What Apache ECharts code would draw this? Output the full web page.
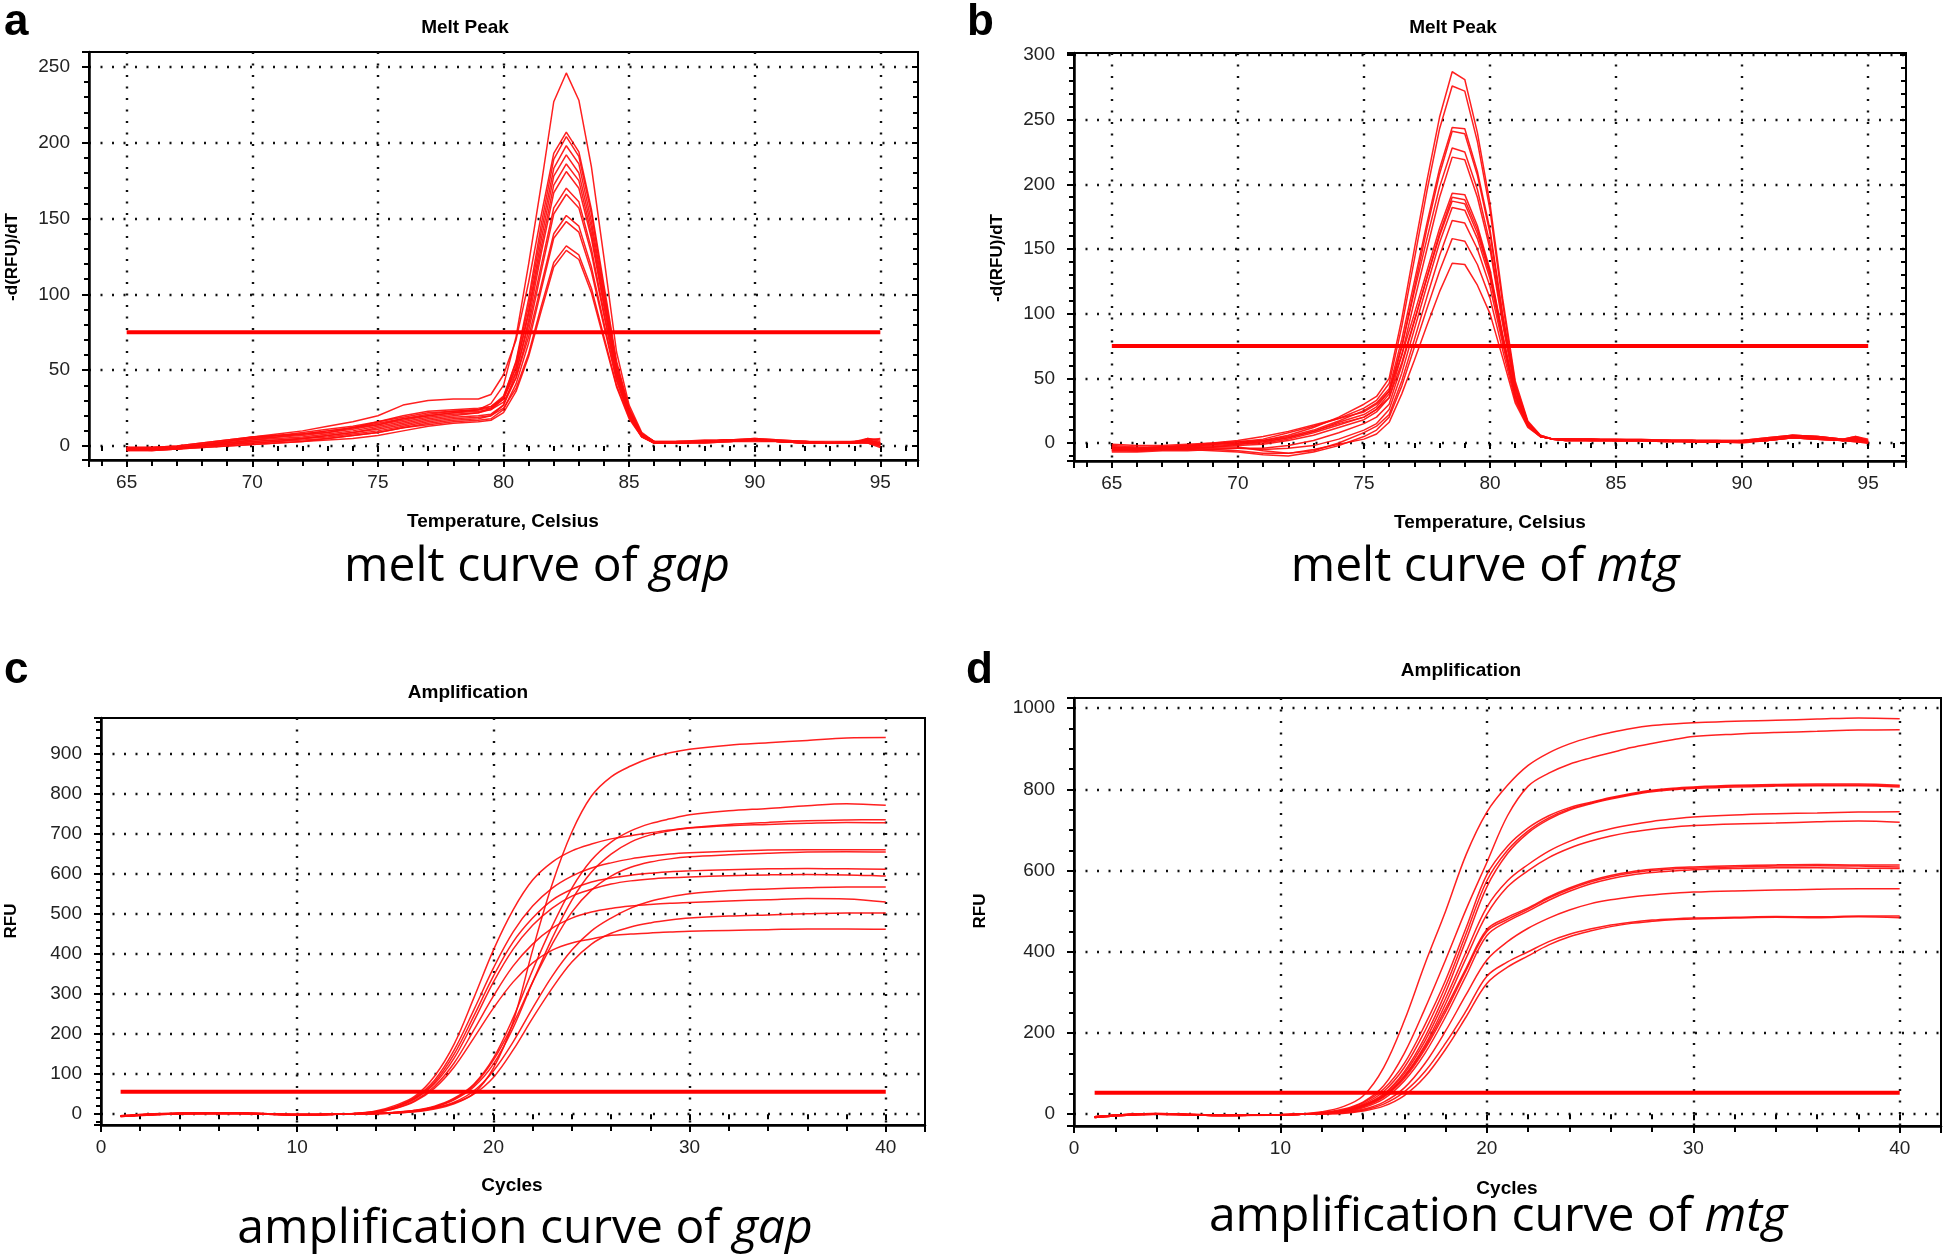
<!DOCTYPE html>
<html><head><meta charset="utf-8">
<script src="https://cdn.jsdelivr.net/npm/echarts@6/dist/echarts.min.js"></script>
<style>html,body{margin:0;padding:0;background:#fff}#c{width:1946px;height:1260px}</style>
</head><body><div id="c"></div><script>
// ---------- Panel a: melt peak of gap ----------
const aTemps = [65,66,67,68,69,70,71,72,73,74,75,76,77,78,79,79.5,80,80.5,81,81.5,82,82.5,83,83.5,84,84.5,85,85.5,86,87,88,89,90,91,92,93,94,94.5,95];
const aCurves = [
 [-2,-2,-1,1,3,5,6,8,10,12,15,18,20,22,24, 28,40,72,120,172,227,246,228,184,124,62,27,9,3, 3,3,4,4,3,3,2,3,4,2],
 [-1,-1,0,2,4,6,8,10,13,16,20,27,30,31,31, 34,47,70,108,152,193,207,194,156,106,56,25,8,3, 2,3,4,5,4,3,2,2,5,3],
 [-3,-3,-2,0,1,2,3,5,7,9,12,15,18,20,22, 25,32,56,97,146,189,204,191,153,103,54,24,8,3, 2,3,3,4,3,2,2,3,3,1],
 [-1,-1,-1,1,3,6,7,8,9,11,14,18,21,23,24, 26,33,55,93,141,183,198,186,148,100,53,24,8,3, 3,4,4,4,3,3,2,2,4,5],
 [-2,-2,-1,0,2,4,5,6,8,10,13,16,19,21,22, 24,31,52,89,136,178,192,180,144,97,51,23,8,2, 2,3,4,4,3,2,2,2,3,0],
 [-1,-2,-2,0,2,4,6,7,9,12,16,20,23,24,25, 26,32,52,87,131,172,186,175,140,94,50,22,7,2, 3,3,4,5,4,3,2,3,2,1],
 [-3,-3,-2,-1,0,1,2,3,5,7,9,12,15,17,18, 20,27,48,83,127,167,181,170,137,92,49,22,7,2, 2,3,3,4,3,2,2,2,4,2],
 [-2,-2,-1,1,3,5,7,9,11,13,16,19,22,23,24, 25,31,49,80,119,157,170,161,130,88,47,21,7,2, 3,3,4,4,3,3,3,3,5,4],
 [-2,-1,-1,0,1,3,4,5,7,9,11,14,17,19,20, 21,27,45,76,115,153,166,157,127,86,46,21,7,2, 2,2,3,4,3,2,2,2,3,1],
 [-1,-1,0,2,4,6,7,8,10,12,14,17,20,22,23, 24,29,45,72,106,140,152,145,118,81,44,20,7,2, 3,3,4,4,3,2,2,3,4,2],
 [-3,-2,-2,0,1,2,3,4,5,7,9,12,14,16,17, 18,24,41,68,103,137,148,141,115,79,43,20,6,2, 2,3,3,4,3,2,2,2,2,-1],
 [-2,-2,-1,0,2,3,4,5,6,8,10,13,16,18,19, 20,25,38,61,92,121,132,126,104,72,40,19,6,2, 2,3,4,4,3,3,2,2,3,2],
 [-2,-3,-2,-1,0,1,2,3,4,5,7,10,13,15,16, 17,22,36,59,89,118,129,123,101,70,39,18,6,2, 2,2,3,3,3,2,2,2,2,0]
];
const aThreshold = 75;

// ---------- Panel b: melt peak of mtg ----------
const bTemps = [65,66,67,68,69,70,71,72,73,74,75,75.5,76,76.5,77,77.5,78,78.5,79,79.5,80,80.5,81,81.5,82,82.5,83,84,85,86,87,88,89,90,91,92,93,94,94.5,95];
const bCurves = [
 [-3,-4,-3,-2,-1,0,2,6,12,20, 30,36,50,96,150,203,252,287,281,240,185,112,48,17,6,3, 3,3,2,2,2,2,1,1,3,5,4,2,4,1],
 [-5,-5,-4,-3,-1,1,3,8,13,19, 27,33,46,90,142,195,243,276,272,233,180,108,46,16,6,3, 3,3,3,2,2,2,2,2,4,6,5,3,5,2],
 [-2,-3,-3,-2,0,1,2,5,10,17, 25,31,42,80,125,170,212,244,243,210,165,100,44,16,5,3, 2,2,2,2,2,1,1,1,2,4,3,2,3,0],
 [-6,-6,-5,-4,-3,-1,0,3,8,14, 20,26,38,74,120,166,208,241,239,207,162,98,43,15,5,3, 3,3,2,2,2,2,2,1,3,5,4,3,2,1],
 [-3,-4,-3,-2,-1,0,1,4,9,16, 22,28,40,75,117,158,198,228,225,196,154,95,42,15,5,3, 3,2,2,2,2,2,1,2,3,6,5,3,4,2],
 [-5,-6,-5,-4,-3,-2,-1,2,6,12, 18,24,35,68,110,150,190,221,219,190,150,92,41,15,5,3, 2,2,2,2,1,1,1,1,2,4,3,2,1,0],
 [-1,-2,-2,-1,0,2,5,9,14,19, 24,30,40,68,100,133,166,193,192,168,134,84,38,14,5,3, 3,3,3,3,2,2,2,2,4,6,5,3,5,3],
 [-7,-7,-6,-6,-5,-4,-4,-2,2,8, 15,20,30,60,94,128,162,190,188,165,132,83,38,14,5,3, 2,2,2,2,2,1,1,1,3,5,4,2,3,1],
 [-4,-5,-4,-3,-2,-1,1,4,9,15, 20,26,35,62,95,128,160,187,185,162,130,82,37,14,5,3, 3,3,2,2,2,2,1,1,2,5,4,2,3,2],
 [-6,-6,-5,-5,-4,-4,-5,-4,-2,3, 10,15,26,54,88,122,155,182,180,158,127,80,36,14,5,3, 2,2,2,2,1,1,1,0,2,4,3,2,1,0],
 [-3,-4,-3,-3,-3,-3,-6,-8,-6,0, 8,13,22,48,80,113,145,172,170,150,121,77,35,13,5,3, 3,2,2,2,2,1,1,1,3,5,4,2,4,1],
 [-5,-6,-5,-5,-6,-7,-9,-10,-7,-2, 5,10,20,44,74,104,133,158,156,138,112,72,33,13,5,3, 2,2,2,2,2,1,1,1,2,4,3,2,2,0],
 [-4,-5,-4,-4,-5,-6,-8,-8,-5,-1, 3,7,16,38,64,91,117,139,138,122,100,66,31,12,5,3, 3,3,2,2,2,2,1,1,3,5,4,2,3,1]
];
const bThreshold = 75;

// ---------- Panel c: amplification of gap ----------
const cCycles = [1,4,7,10,12,13,14,15,16,17,18,19,20,21,22,23,24,25,26,27,28,29,30,32,34,36,38,40];
const cCurves = [
 [-5,2,3,-1,0,1, 2,4,8,16,28,52,115,230,410,575,705,795,843,870,890,903,912, 922,928,934,940,941],
 [-4,2,2,-2,0,1, 2,5,10,20,40,75,140,240,360,470,565,635,680,708,726,738,748, 758,764,771,776,772],
 [-6,1,3,-1,0,2, 8,22,45,95,175,290,410,510,585,630,658,675,688,696,703,710,716, 724,729,733,735,736],
 [-5,2,2,-1,0,1, 2,4,9,18,36,68,125,215,330,440,535,605,650,680,698,708,715, 721,724,727,729,728],
 [-4,3,3,-2,0,2, 7,19,42,85,160,260,365,455,520,565,595,615,628,638,645,650,653, 657,660,661,661,661],
 [-5,2,2,-1,0,1, 2,4,9,18,38,72,135,225,330,425,505,560,595,617,630,638,643, 648,652,655,656,655],
 [-6,1,2,-2,0,2, 6,18,40,80,150,245,345,430,490,535,562,580,590,597,602,606,608, 611,613,614,613,612],
 [-5,2,3,-1,0,2, 6,17,38,76,140,232,330,412,472,515,545,562,575,583,588,591,593, 596,598,599,598,595],
 [-4,2,2,-1,0,1, 1,3,7,15,30,58,108,180,265,345,410,458,490,515,532,543,551, 559,563,566,568,568],
 [-5,2,2,-2,0,1, 5,15,34,70,128,210,295,370,425,465,490,505,514,520,524,527,529, 533,536,539,538,530],
 [-6,1,3,-1,0,1, 1,3,6,13,26,50,92,160,240,315,380,425,452,468,478,485,490, 495,498,501,503,503],
 [-5,2,2,-1,0,2, 5,14,32,65,118,190,265,330,378,410,428,438,447,450,453,455,457, 459,461,463,463,462]
];
const cThreshold = 56;

// ---------- Panel d: amplification of mtg ----------
const dCycles = [1,4,7,10,11,12,13,14,15,16,17,18,19,20,21,22,23,24,25,26,27,28,29,30,32,34,36,38,40];
const dCurves = [
 [-7,1,-3,-1,1, 6,18,45,115,230,370,500,640,744,810,859,890,912,928,940,950,957,961,964, 968,970,973,976,974],
 [-6,2,-2,-2,0, 4,12,30,70,150,260,380,505,620,735,808,840,862,877,890,903,913,922,930, 936,940,943,946,947],
 [-8,0,-3,-2,0, 3,10,28,62,125,220,330,460,590,660,705,735,755,768,780,790,798,803,806, 810,812,813,813,810],
 [-6,1,-2,-1,0, 3,9,25,56,115,205,315,445,575,650,698,730,752,766,778,788,796,801,804, 808,810,811,811,808],
 [-7,1,-3,-2,1, 2,8,22,50,105,190,300,430,560,642,693,726,749,764,776,786,794,799,802, 806,808,809,809,806],
 [-6,2,-2,-1,0, 2,8,22,48,100,180,285,400,510,575,615,648,672,690,703,713,721,727,732, 737,740,742,744,745],
 [-8,0,-3,-2,0, 2,7,20,45,94,170,272,385,492,560,600,632,655,672,685,695,702,707,711, 715,717,720,722,719],
 [-7,1,-2,-1,0, 2,7,20,44,92,165,260,360,455,485,508,535,557,575,588,597,603,607,609, 612,614,615,614,614],
 [-6,1,-3,-2,0, 2,6,18,42,88,160,252,355,450,480,505,532,554,572,585,594,600,604,606, 609,611,612,611,609],
 [-8,0,-3,-1,0, 1,5,16,38,82,150,240,342,440,475,500,527,549,567,580,589,595,599,602, 605,607,607,606,605],
 [-7,1,-2,-2,0, 1,4,12,30,65,125,205,295,380,425,458,483,503,518,528,535,540,544,547, 550,552,554,555,555],
 [-6,1,-3,-1,0, 1,3,10,25,55,105,175,255,340,375,400,425,443,456,466,473,478,481,483, 485,487,486,488,488],
 [-8,0,-2,-2,0, 1,2,8,20,46,92,160,240,322,362,390,417,437,451,462,470,475,479,481, 483,485,484,486,484]
];
const dThreshold = 53;

// ---------- layout / styling ----------
const FONT = '"Liberation Sans", Arial, sans-serif';
const panels = [
 {grid:{left:89, top:52, width:829, height:408}, x:[63.5,96.5,5,5], y:[-9.2,259.8,50,5], xs:aTemps, curves:aCurves, thr:aThreshold, thrX:[65,95], smooth:false},
 {grid:{left:1074, top:53, width:832, height:408}, x:[63.5,96.5,5,5], y:[-13.9,301.5,50,5], xs:bTemps, curves:bCurves, thr:bThreshold, thrX:[65,95], smooth:false},
 {grid:{left:101, top:718, width:824, height:407}, x:[0,42,10,5], y:[-27,990,100,5], xs:cCycles, curves:cCurves, thr:cThreshold, thrX:[1,40], smooth:0.35},
 {grid:{left:1074, top:698, width:867, height:428}, x:[0,42,10,5], y:[-29,1025,200,4], xs:dCycles, curves:dCurves, thr:dThreshold, thrX:[1,40], smooth:0.35}
];

const dotted = {color:'#111', width:2.4, type:[2,9.5]};
function mainAxis(kind, p, i, r){
  const isX = kind === 'x';
  return {
    type:'value', gridIndex:i, position: isX ? 'bottom' : 'left',
    min:r[0], max:r[1], minInterval:r[2], maxInterval:r[2], splitNumber:6,
    axisLine:{show:true, onZero:false, lineStyle:{color:'#000', width:2.5}},
    axisTick:{show:true, length:7, lineStyle:{color:'#000', width:2}},
    minorTick:{show:true, splitNumber:r[3], length: isX ? 6 : 5, lineStyle:{color:'#000', width:2}},
    axisLabel:{show:true, margin: isX ? 13 : 19, fontSize:19, color:'#222', fontFamily:FONT,
      formatter: v => String(Math.round(v)),
      showMinLabel: (r[0] % r[2] === 0), showMaxLabel: (r[1] % r[2] === 0)},
    splitLine:{show:true, showMinLine:false, showMaxLine:false, lineStyle:dotted},
    minorSplitLine:{show:false}
  };
}
function sideAxis(kind, p, i, r){
  const isX = kind === 'x';
  return {
    type:'value', gridIndex:i, position: isX ? 'top' : 'right',
    min:r[0], max:r[1], minInterval:r[2], maxInterval:r[2], splitNumber:6,
    axisLine:{show:false},
    axisTick:{show:true, inside:true, length:6, lineStyle:{color:'#000', width:2}},
    minorTick:{show:true, splitNumber:r[3], length:5, lineStyle:{color:'#000', width:2}},
    axisLabel:{show:false}, splitLine:{show:false}
  };
}

const grids = [], xAxes = [], yAxes = [], series = [];
panels.forEach((p,i)=>{
  grids.push(Object.assign({show:true, borderColor:'#000', borderWidth:2, backgroundColor:'#fff'}, p.grid));
  xAxes[i] = mainAxis('x', p, i, p.x);
  yAxes[i] = mainAxis('y', p, i, p.y);
  xAxes[i+4] = sideAxis('x', p, i, p.x);
  yAxes[i+4] = sideAxis('y', p, i, p.y);
  p.curves.forEach(ys=>{
    series.push({type:'line', xAxisIndex:i, yAxisIndex:i, symbol:'none', showSymbol:false,
      smooth:p.smooth, silent:true, z:3,
      lineStyle:{color:'#ff0d0d', width:1.5, opacity:0.92},
      data: p.xs.map((x,k)=>[x, ys[k]])});
  });
  series.push({type:'line', xAxisIndex:i, yAxisIndex:i, symbol:'none', silent:true, z:4,
    lineStyle:{color:'#ff0000', width:4},
    data:[[p.thrX[0], p.thr],[p.thrX[1], p.thr]]});
});

function txt(text, x, y, size, opts){
  return {type:'text', x:x, y:y, rotation:(opts&&opts.rot)||0, z:10,
    style:{text:text, fill:'#000', fontSize:size, fontFamily:(opts&&opts.family)||FONT,
      fontWeight:(opts&&opts.weight)||'bold', align:(opts&&opts.align)||'center', verticalAlign:'middle'}};
}
function caption(plain, ital, x, y){
  const F = '"Open Sans", "Noto Sans", sans-serif';
  return {type:'text', x:x, y:y, z:10,
    style:{text:'{n|'+plain+'}{i|'+ital+'}', align:'center', verticalAlign:'middle', fill:'#000',
      fontSize:48, fontFamily:F,
      rich:{n:{fontSize:48, fontFamily:F, fill:'#000'}, i:{fontSize:48, fontFamily:F, fontStyle:'italic', fill:'#000'}}}};
}
const graphics = [
  txt('a', 4, 23, 44, {align:'left'}), txt('b', 967, 23, 44, {align:'left'}),
  txt('c', 4, 671, 44, {align:'left'}), txt('d', 966, 671, 44, {align:'left'}),
  txt('Melt Peak', 465, 28, 19), txt('Melt Peak', 1453, 28, 19),
  txt('Amplification', 468, 693, 19), txt('Amplification', 1461, 671, 19),
  txt('Temperature, Celsius', 503, 522, 19), txt('Temperature, Celsius', 1490, 523, 19),
  txt('Cycles', 512, 1186, 19), txt('Cycles', 1507, 1189, 19),
  txt('-d(RFU)/dT', 12, 257, 17, {rot:Math.PI/2}), txt('-d(RFU)/dT', 997, 258, 17, {rot:Math.PI/2}),
  txt('RFU', 11, 921, 17, {rot:Math.PI/2}), txt('RFU', 980, 911, 17, {rot:Math.PI/2}),
  caption('melt curve of ', 'gap', 537, 567), caption('melt curve of ', 'mtg', 1485, 567),
  caption('amplification curve of ', 'gap', 525, 1229), caption('amplification curve of ', 'mtg', 1498, 1217)
];

const chart = echarts.init(document.getElementById('c'), null, {renderer:'canvas', width:1946, height:1260});
chart.setOption({animation:false, backgroundColor:'#fff', grid:grids, xAxis:xAxes, yAxis:yAxes, series:series, graphic:graphics});
</script></body></html>
